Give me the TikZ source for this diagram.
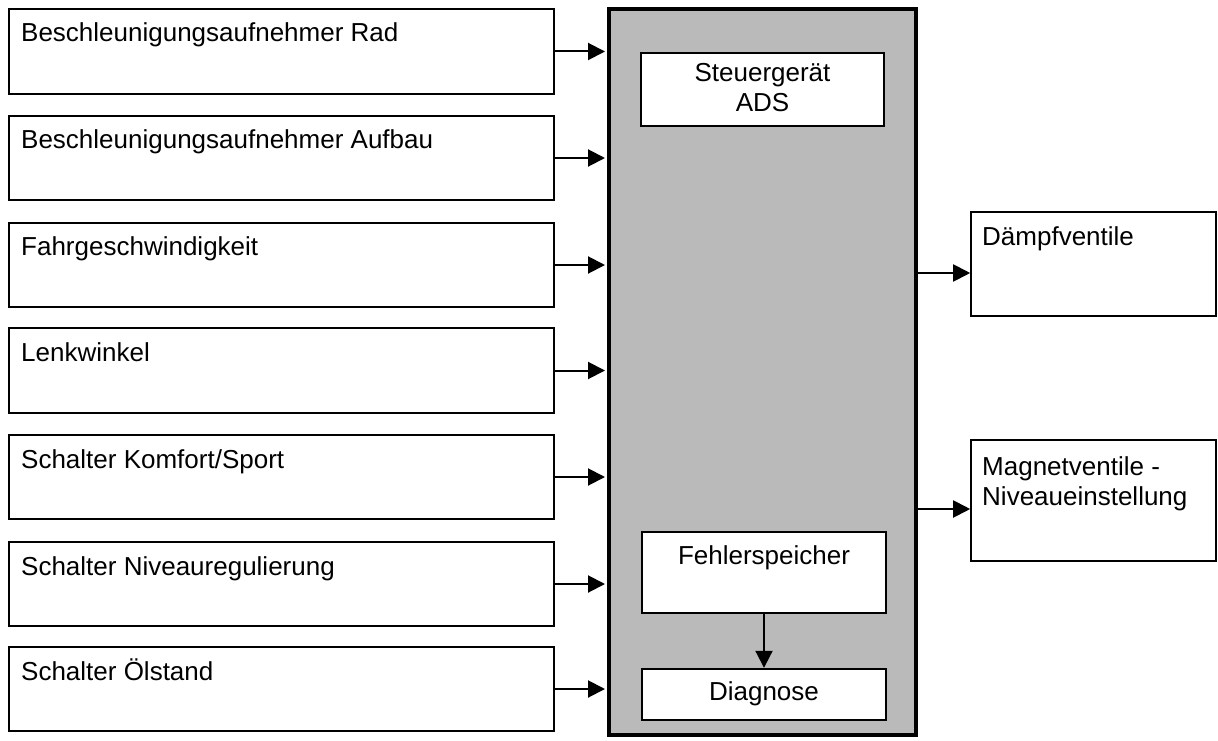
\documentclass[tikz,border=0pt]{standalone}
\usepackage{fontspec}
\setmainfont{Liberation Sans}
\usetikzlibrary{arrows.meta,fit}
\begin{document}
\begin{tikzpicture}[x=1pt,y=-1pt,
  box/.style={draw, line width=1.6pt, inner sep=0pt},
  ibox/.style={draw, fill=white, line width=2.4pt, inner sep=0pt},
  cbox/.style={draw, fill=black!27, line width=4pt, inner sep=0pt},
  lbl/.style={inner sep=0pt, font=\fontsize{26}{30}\selectfont},
  arr/.style={-{Triangle[length=17pt,width=17pt]}, line width=2pt},
]
\useasboundingbox (0,0) rectangle (1218,741);
\fill[white] (0,0) rectangle (1218,741);

% central control unit
\node[cbox, fit={(609,9) (916,735)}] (cb) {};
\node[ibox, fit={(641,53) (884,126)}] (sg) {};
\node[lbl, anchor=base] (sgt1) at (762.5,82) {Steuergerät};
\node[lbl, anchor=base] (sgt2) at (762.5,112) {ADS};
\node[ibox, fit={(642,532) (886,613)}] (fs) {};
\node[lbl, anchor=base] (fst) at (764,564) {Fehlerspeicher};
\node[ibox, fit={(642,669) (886,720)}] (dg) {};
\node[lbl, anchor=base] (dgt) at (764,700) {Diagnose};
\draw[arr] (fs.south) -- (dg.north);

% inputs
\node[box, fit={(9,9) (554,94)}] (b1) {};
\node[box, fit={(9,116) (554,200)}] (b2) {};
\node[box, fit={(9,223) (554,307)}] (b3) {};
\node[box, fit={(9,328) (554,413)}] (b4) {};
\node[box, fit={(9,435) (554,519)}] (b5) {};
\node[box, fit={(9,542) (554,626)}] (b6) {};
\node[box, fit={(9,647) (554,731)}] (b7) {};
\node[lbl, anchor=base west] (t1) at (21,42) {Beschleunigungsaufnehmer Rad};
\node[lbl, anchor=base west] (t2) at (21,149) {Beschleunigungsaufnehmer Aufbau};
\node[lbl, anchor=base west] (t3) at (21,255) {Fahrgeschwindigkeit};
\node[lbl, anchor=base west] (t4) at (21,361) {Lenkwinkel};
\node[lbl, anchor=base west] (t5) at (21,468) {Schalter Komfort/Sport};
\node[lbl, anchor=base west] (t6) at (21,575) {Schalter Niveauregulierung};
\node[lbl, anchor=base west] (t7) at (21,680) {Schalter Ölstand};
\foreach \b in {b1,b2,b3,b4,b5,b6,b7}
  \draw[arr, shorten >=2pt] (\b.east) -- (\b.east -| cb.west);

% outputs
\node[box, fit={(971,212) (1216,316)}] (r1) {};
\node[lbl, anchor=base west] (rt1) at (982,245) {Dämpfventile};
\node[box, fit={(971,440) (1216,561)}] (r2) {};
\node[lbl, anchor=base west] (rt2a) at (982,475) {Magnetventile -};
\node[lbl, anchor=base west] (rt2b) at (982,505) {Niveaueinstellung};
\coordinate (a1) at ([yshift=-9pt]r1.west);
\coordinate (a2) at ([yshift=-8.5pt]r2.west);
\draw[arr] (cb.east |- a1) -- (a1);
\draw[arr] (cb.east |- a2) -- (a2);
\end{tikzpicture}
\end{document}
